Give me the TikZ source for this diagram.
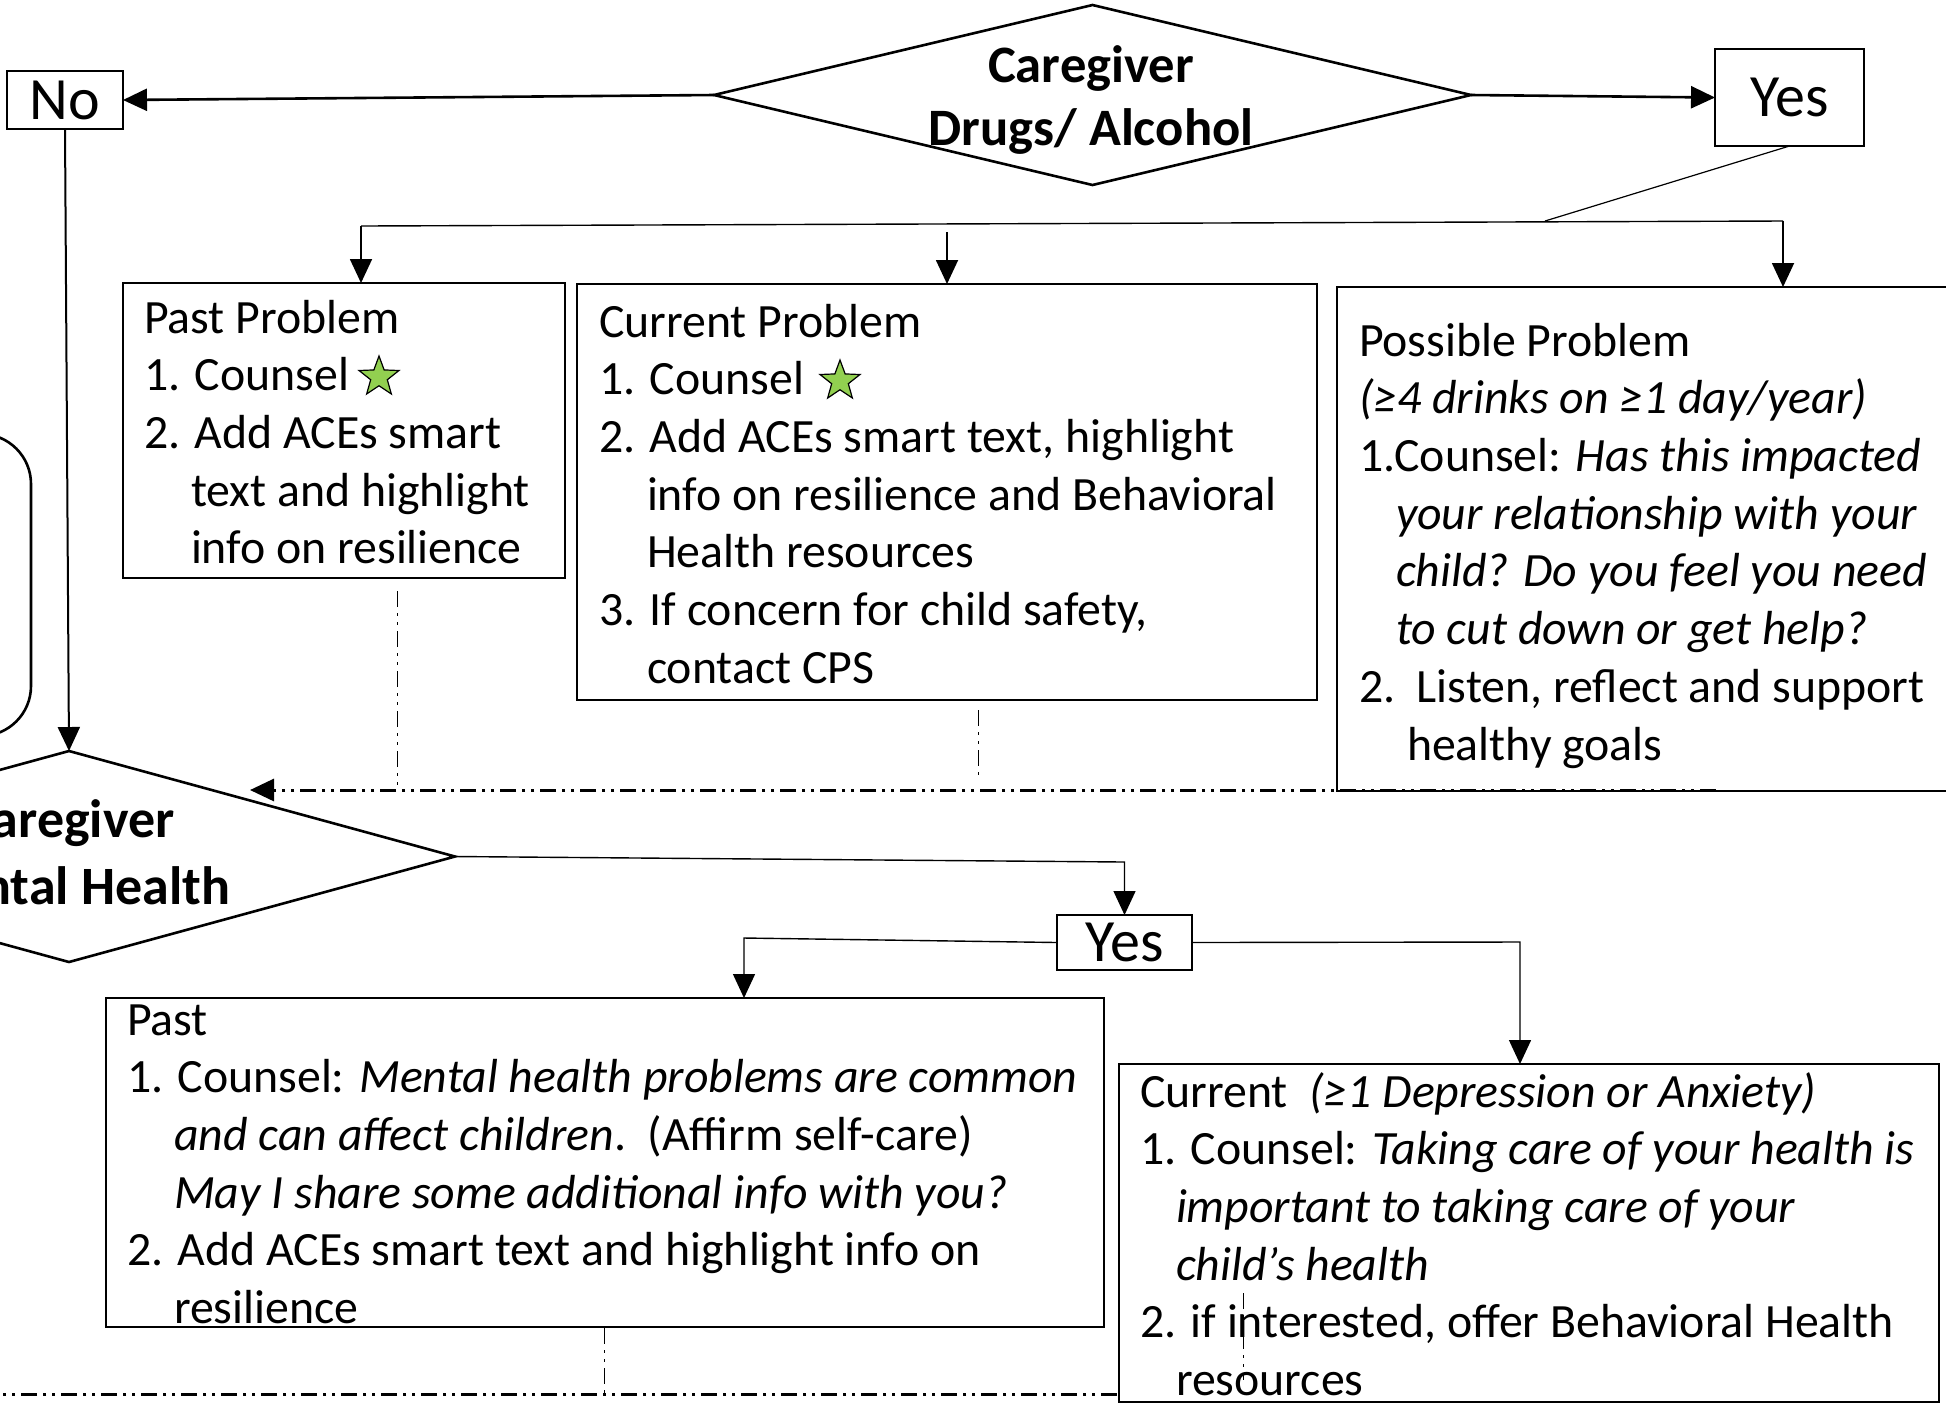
\documentclass[tikz,border=0pt]{standalone}
\usepackage{fontspec}
\setmainfont{Carlito}
\usetikzlibrary{arrows.meta,shapes.geometric,calc}
\definecolor{stargreen}{HTML}{92D050}
\begin{document}
\begin{tikzpicture}[x=0.5pt,y=-0.5pt,
  every node/.style={inner sep=0pt, outer sep=0pt},
  flowbox/.style={draw, line width=1.1pt, rectangle, anchor=north west},
  body/.style={font=\fontsize{23.9}{28.85}\selectfont, align=left, anchor=north west},
  dec/.style={draw, diamond, line width=1.3pt},
  dectext/.style={font=\bfseries\fontsize{26.3}{31.5}\selectfont, align=center, anchor=north},
  answer/.style={draw, rectangle, line width=1.1pt, font=\fontsize{30}{36}\selectfont},
  arrowtip/.style={-{Triangle[length=12pt,width=11pt]}},
  mainarrow/.style={arrowtip, line width=1.3pt},
  thinline/.style={line width=0.7pt},
  dashdot/.style={dash pattern=on 8pt off 3pt on 1.5pt off 3pt on 1.5pt off 3pt},
  greenstar/.style={star, star points=5, star point ratio=2.4, draw, line width=0.6pt, fill=stargreen, minimum size=21pt},
]
\useasboundingbox (0,0) rectangle (1946,1404);
\fill[white] (0,0) rectangle (1946,1404);
\clip (0,0) rectangle (1946,1404);

% decisions
\node[dec, minimum width=378.5pt, minimum height=90pt] (d1) at (1092.5,95) {};
\node[dectext] (d1t) at (1091,37.9) {\strut Caregiver\\Drugs/ Alcohol};
\node[dec, minimum width=386pt, minimum height=105.5pt] (d2) at (69,856.5) {};
\node[dectext, font=\bfseries\fontsize{27}{33.5}\selectfont] (d2t) at (69,791) {\strut Caregiver\\Mental Health};

% answers
\node[answer, minimum width=58pt, minimum height=29pt] (no) at (65,100) {No};
\node[answer, minimum width=74.5pt, minimum height=48.5pt] (yes1) at (1789.5,97.5) {Yes};
\node[answer, minimum width=67.5pt, minimum height=27.5pt] (yes2) at (1124.5,942.5) {Yes};

% boxes
\node[flowbox, minimum width=221pt, minimum height=147.5pt] (pp) at (123,283) {};
\node[flowbox, minimum width=370pt, minimum height=208pt] (cp) at (577,284) {};
\node[flowbox, minimum width=320pt, minimum height=252pt] (pos) at (1337,287) {};
\node[flowbox, minimum width=499pt, minimum height=164.5pt] (p2) at (106,998) {};
\node[flowbox, minimum width=410pt, minimum height=169pt] (c2) at (1119,1064) {};
\node[draw, line width=1.3pt, rounded corners=25pt, minimum width=150pt, minimum height=151pt, anchor=east] (lb) at (31,585) {};

% texts
\node[body] (ppt) at (144,292.7) {\strut Past Problem\\
1. Counsel\\
2. Add ACEs smart\\
\hspace*{23.5pt}text and highlight\\
\hspace*{23.5pt}info on resilience};
\node[body] (cpt) at (599,296.7) {\strut Current Problem\\
1. Counsel\\
2. Add ACEs smart text, highlight\\
\hspace*{24pt}info on resilience and Behavioral\\
\hspace*{24pt}Health resources\\
3. If concern for child safety,\\
\hspace*{24pt}contact CPS};
\node[body] (post) at (1359,315.7) {\strut Possible Problem\\
\textit{(≥4 drinks on ≥1 day/year)}\\
1.Counsel: \textit{Has this impacted}\\
\hspace*{18.5pt}\textit{your relationship with your}\\
\hspace*{18.5pt}\textit{child? Do you feel you need}\\
\hspace*{18.5pt}\textit{to cut down or get help?}\\
2.\ \ Listen, reflect and support\\
\hspace*{24pt}healthy goals};
\node[body] (p2t) at (127,994.7) {\strut Past\\
1. Counsel: \textit{Mental health problems are common}\\
\hspace*{23.5pt}\textit{and can affect children}.\ \ (Affirm self-care)\\
\hspace*{23.5pt}\textit{May I share some additional info with you?}\\
2. Add ACEs smart text and highlight info on\\
\hspace*{23.5pt}resilience};
\node[body] (c2t) at (1140,1066.7) {\strut Current\ \ \textit{(≥1 Depression or Anxiety)}\\
1. Counsel: \textit{Taking care of your health is}\\
\hspace*{18pt}\textit{important to taking care of your}\\
\hspace*{18pt}\textit{child’s health}\\
2. if interested, offer Behavioral Health\\
\hspace*{18pt}resources};

% stars
\node[greenstar] (s1) at (379,377) {};
\node[greenstar] (s2) at (840,381) {};

% top connectors
\draw[mainarrow] (d1.west) -- (no.east);
\draw[mainarrow] (d1.east) -- (yes1.west);
\draw[arrowtip, line width=1pt] (no.south) -- (d2.north);
\coordinate (j1) at (1545,221);
\coordinate (j1l) at (361,226);
\coordinate (j1r) at (1783,221);
\coordinate (c2s) at (947,232);
\draw[line width=0.6pt] (yes1.south) -- (j1);
\draw[thinline] (j1l) -- (j1r);
\draw[arrowtip, line width=0.9pt] (j1l) -- (j1l |- pp.north);
\draw[arrowtip, line width=0.9pt] (c2s) -- (c2s |- cp.north);
\draw[arrowtip, line width=0.9pt] (j1r) -- (j1r |- pos.north);

% dash-dot returns (top)
\coordinate (a1) at (397,591);
\coordinate (a2) at (397,790);
\coordinate (b1) at (978,710);
\coordinate (b2) at (978,775);
\coordinate (h1) at (1716,790);
\coordinate (h2) at (250,790);
\draw[dashdot, line width=0.5pt] (a1) -- (a2);
\draw[dashdot, line width=0.5pt] (b1) -- (b2);
\draw[dashdot, arrowtip, line width=1.5pt] (h1) -- (h2);

% mental health connectors
\coordinate (k1) at (1124.5,862);
\coordinate (k2) at (744,938);
\coordinate (k3) at (1520,942);
\draw[arrowtip, thinline] (d2.east) -- (k1) -- (yes2.north);
\draw[arrowtip, thinline] (yes2.west) -- (k2) -- (k2 |- p2.north);
\draw[arrowtip, thinline] (yes2.east) -- (k3) -- (k3 |- c2.north);

% dash-dot returns (bottom)
\coordinate (e1) at (604,1328);
\coordinate (e2) at (604,1394);
\coordinate (g1) at (1117,1394);
\coordinate (g2) at (-10,1394);
\coordinate (f1) at (1243,1293);
\coordinate (f2) at (1243,1380);
\draw[dashdot, line width=0.5pt] (e1) -- (e2);
\draw[dashdot, line width=1.5pt] (g1) -- (g2);
\draw[dashdot, line width=0.5pt] (f1) -- (f2);
\end{tikzpicture}
\end{document}
